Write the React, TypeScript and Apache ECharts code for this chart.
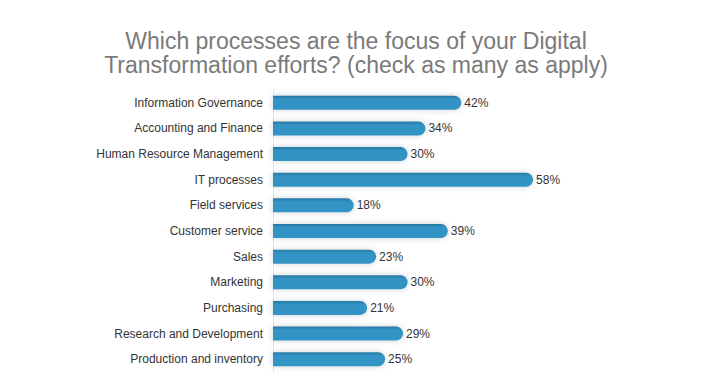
import React, { useEffect, useRef } from "react";
import * as echarts from "echarts";

const categories = [
  "Information Governance",
  "Accounting and Finance",
  "Human Resource Management",
  "IT processes",
  "Field services",
  "Customer service",
  "Sales",
  "Marketing",
  "Purchasing",
  "Research and Development",
  "Production and inventory",
];
const values = [42, 34, 30, 58, 18, 39, 23, 30, 21, 29, 25];
const titleLines = [
  "Which processes are the focus of your Digital",
  "Transformation efforts? (check as many as apply)",
];

export default function App() {
  const ref = useRef<HTMLDivElement>(null);
  useEffect(() => {
    if (!ref.current) return;
    const chart = echarts.init(ref.current, null, { renderer: "svg" });
    chart.setOption({
      animation: false,
      backgroundColor: "#ffffff",
      title: {
        text: titleLines.join("\n"),
        left: 343,
        textAlign: "center",
        top: 16,
        textStyle: {
          fontFamily: "Liberation Sans, Arial, sans-serif",
          fontSize: 23,
          fontWeight: "normal",
          color: "#7a7a7a",
          lineHeight: 24,
        },
      },
      grid: { left: 265, top: 82, width: 269, height: 282, containLabel: false },
      xAxis: {
        type: "value",
        min: 0,
        max: 60,
        show: false,
      },
      yAxis: {
        type: "category",
        data: categories,
        inverse: true,
        axisLine: { show: true, lineStyle: { color: "#e4e4e4", width: 1 } },
        axisTick: { show: false },
        axisLabel: {
          fontFamily: "Liberation Sans, Arial, sans-serif",
          fontSize: 12,
          color: "#333333",
          margin: 10,
        },
      },
      series: [
        {
          type: "bar",
          data: values,
          barWidth: 14,
          itemStyle: {
            color: new echarts.graphic.LinearGradient(0, 0, 0, 1, [
              { offset: 0, color: "#2578a3" },
              { offset: 0.25, color: "#3393c4" },
              { offset: 1, color: "#3394c5" },
            ]),
            borderRadius: [0, 7, 7, 0],
            shadowColor: "rgba(120,140,160,0.4)",
            shadowBlur: 6,
            shadowOffsetY: 0,
          },
          label: {
            show: true,
            position: "right",
            distance: 3,
            formatter: "{c}%",
            fontFamily: "Liberation Sans, Arial, sans-serif",
            fontSize: 12,
            color: "#333333",
          },
        },
      ],
    });
    return () => chart.dispose();
  }, []);
  return <div ref={ref} style={{ width: 702, height: 376 }} />;
}
